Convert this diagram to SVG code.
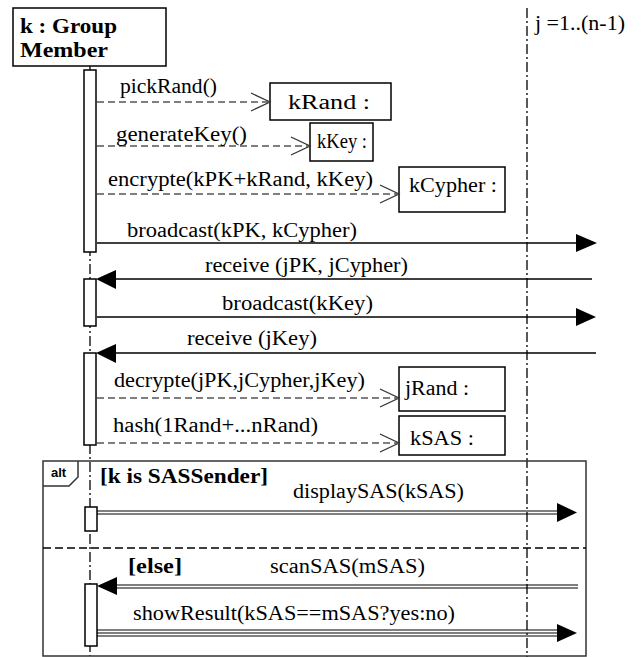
<svg xmlns="http://www.w3.org/2000/svg" width="641" height="657" viewBox="0 0 641 657">
<defs>
<style>
text{font-family:"Liberation Serif","Times New Roman",serif;font-size:20px;fill:#000}
.b{font-weight:bold}
.box{fill:#fff;stroke:#000;stroke-width:1.5}
.act{fill:#fff;stroke:#000;stroke-width:1.5}
.life{stroke:#000;stroke-width:1.3;stroke-dasharray:10,3,2,3;fill:none}
.dash{stroke:#000;stroke-width:1.2;stroke-dasharray:7,4;fill:none}
.open{stroke:#333;stroke-width:1.3;fill:none}
.sol{stroke:#000;stroke-width:1.3;fill:none}
.dbl{stroke:#000;stroke-width:1.2;fill:none}
.head{fill:#000;stroke:none}
.frame{fill:none;stroke:#333;stroke-width:1.5}
</style>
</defs>
<rect width="641" height="657" fill="#fff"/>
<g id="lifelines">
<line class="life" x1="90" y1="66" x2="90" y2="656"/>
<line class="life" x1="527" y1="8" x2="527" y2="657"/>
</g>
<g id="member_k">
<rect class="box" x="13" y="8" width="153" height="58"/>
<text class="b" x="20" y="33" textLength="97" lengthAdjust="spacingAndGlyphs">k : Group</text>
<text class="b" x="20" y="57" textLength="88" lengthAdjust="spacingAndGlyphs">Member</text>
</g>
<g id="member_j">
<text x="535" y="30" textLength="90" lengthAdjust="spacingAndGlyphs">j =1..(n-1)</text>
</g>
<g id="activations">
<rect class="act" x="84" y="70" width="12" height="182"/>
<rect class="act" x="84" y="279" width="12" height="47"/>
<rect class="act" x="84" y="353" width="12" height="92"/>
<rect class="act" x="85" y="507" width="12" height="24"/>
<rect class="act" x="85" y="584" width="12" height="62"/>
</g>
<g id="kRand"><rect class="box" x="270" y="83" width="121" height="37"/><text x="288" y="109" textLength="82" lengthAdjust="spacingAndGlyphs">kRand :</text></g>
<g id="kKey"><rect class="box" x="310" y="123" width="63" height="38"/><text x="317" y="148" textLength="50" lengthAdjust="spacingAndGlyphs">kKey :</text></g>
<g id="kCypher"><rect class="box" x="399" y="167" width="106" height="45"/><text x="409" y="192" textLength="88" lengthAdjust="spacingAndGlyphs">kCypher :</text></g>
<g id="jRand"><rect class="box" x="399" y="367" width="106" height="44"/><text x="405" y="395" textLength="64" lengthAdjust="spacingAndGlyphs">jRand :</text></g>
<g id="kSAS"><rect class="box" x="399" y="416" width="106" height="39"/><text x="410" y="445" textLength="64" lengthAdjust="spacingAndGlyphs">kSAS :</text></g>
<g id="alt_frame">
<rect class="frame" x="43" y="461" width="543" height="195"/>
<path class="frame" d="M43,486 H69 L78,477 V461"/>
<text x="51" y="477" style="font-family:'Liberation Sans',Arial,sans-serif;font-size:13px;font-weight:bold">alt</text>
<line x1="43" y1="548" x2="586" y2="548" stroke="#000" stroke-width="1.3" stroke-dasharray="8,4"/>
<text class="b" x="100" y="483" textLength="168" lengthAdjust="spacingAndGlyphs">[k is SASSender]</text>
<text class="b" x="128" y="573" textLength="54" lengthAdjust="spacingAndGlyphs">[else]</text>
</g>
<g id="connectors">
<line class="dash" x1="97" y1="102" x2="268" y2="102"/>
<path class="open" d="M251,93 L270,102 L251,111"/>
<text x="120" y="93" textLength="97" lengthAdjust="spacingAndGlyphs">pickRand()</text>

<line class="dash" x1="97" y1="146" x2="308" y2="146"/>
<path class="open" d="M291,137 L310,146 L291,155"/>
<text x="116" y="141" textLength="131" lengthAdjust="spacingAndGlyphs">generateKey()</text>

<line class="dash" x1="97" y1="194" x2="397" y2="194"/>
<path class="open" d="M380,185 L399,194 L380,203"/>
<text x="108" y="186" textLength="265" lengthAdjust="spacingAndGlyphs">encrypte(kPK+kRand, kKey)</text>

<line class="sol" x1="97" y1="243" x2="580" y2="243"/>
<polygon class="head" points="597,243 576,234 576,252"/>
<text x="127" y="237" textLength="230" lengthAdjust="spacingAndGlyphs">broadcast(kPK, kCypher)</text>

<line class="sol" x1="592" y1="279" x2="112" y2="279"/>
<polygon class="head" points="96,279 116,270 116,289"/>
<text x="205" y="272" textLength="203" lengthAdjust="spacingAndGlyphs">receive (jPK, jCypher)</text>

<line class="sol" x1="97" y1="317" x2="580" y2="317"/>
<polygon class="head" points="596,317 576,308 576,326"/>
<text x="222" y="310" textLength="151" lengthAdjust="spacingAndGlyphs">broadcast(kKey)</text>

<line class="sol" x1="596" y1="353" x2="112" y2="353"/>
<polygon class="head" points="96,353 116,344 116,363"/>
<text x="187" y="345" textLength="130" lengthAdjust="spacingAndGlyphs">receive (jKey)</text>

<line class="dash" x1="97" y1="398" x2="397" y2="398"/>
<path class="open" d="M380,389 L399,398 L380,407"/>
<text x="114" y="387" textLength="251" lengthAdjust="spacingAndGlyphs">decrypte(jPK,jCypher,jKey)</text>

<line class="dash" x1="97" y1="443" x2="397" y2="443"/>
<path class="open" d="M380,434 L399,443 L380,452"/>
<text x="113" y="432" textLength="205" lengthAdjust="spacingAndGlyphs">hash(1Rand+...nRand)</text>

<line class="dbl" x1="97" y1="511" x2="562" y2="511"/>
<line class="dbl" x1="97" y1="514" x2="562" y2="514"/>
<polygon class="head" points="577,512.5 557,503 557,522"/>
<text x="293" y="498" textLength="171" lengthAdjust="spacingAndGlyphs">displaySAS(kSAS)</text>

<line class="dbl" x1="578" y1="585" x2="112" y2="585"/>
<line class="dbl" x1="578" y1="588" x2="112" y2="588"/>
<polygon class="head" points="97,586 117,577 117,595"/>
<text x="270" y="573" textLength="155" lengthAdjust="spacingAndGlyphs">scanSAS(mSAS)</text>

<line class="dbl" x1="97" y1="630" x2="562" y2="630"/>
<line class="dbl" x1="97" y1="633" x2="562" y2="633"/>
<line class="dbl" x1="97" y1="636" x2="562" y2="636"/>
<polygon class="head" points="577,633 557,624 557,642"/>
<text x="133" y="620" textLength="322" lengthAdjust="spacingAndGlyphs">showResult(kSAS==mSAS?yes:no)</text>
</g>
</svg>
